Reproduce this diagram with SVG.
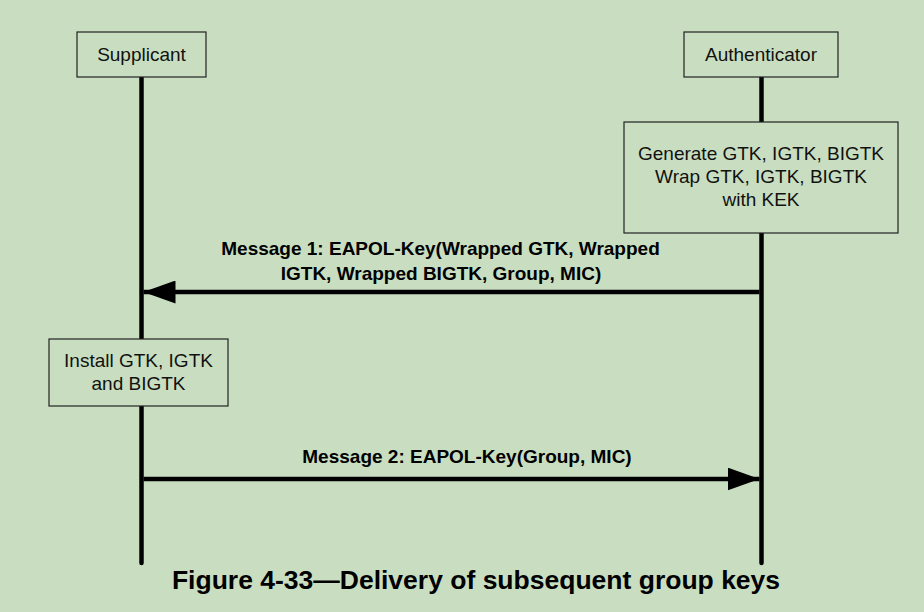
<svg xmlns="http://www.w3.org/2000/svg" width="924" height="612" viewBox="0 0 924 612">
  <defs>
    <style>
      .bg { fill: #c9dec0; }
      .box { fill: #c9dec0; stroke: #222; stroke-width: 1.2; }
      .life { stroke: #000; stroke-width: 4.5; stroke-linecap: round; fill: none; }
      .msg { stroke: #000; stroke-width: 4.5; fill: none; }
      .t { font-family: "Liberation Sans", Arial, sans-serif; font-size: 19px; fill: #111; text-anchor: middle; }
      .b { font-family: "Liberation Sans", Arial, sans-serif; font-size: 19px; font-weight: bold; fill: #000; text-anchor: middle; }
      .cap { font-family: "Liberation Sans", Arial, sans-serif; font-size: 26.5px; font-weight: bold; fill: #000; text-anchor: middle; }
    </style>
    <marker id="ah" viewBox="0 0 32 23" refX="32" refY="11.5" markerWidth="32" markerHeight="23" markerUnits="userSpaceOnUse" orient="auto">
      <path d="M0,0 L32,11.5 L0,23 Z" fill="#000"/>
    </marker>
  </defs>
  <rect class="bg" x="0" y="0" width="924" height="612"/>
  <g id="lifelines">
    <line class="life" x1="141.5" y1="77" x2="141.5" y2="563"/>
    <line class="life" x1="761.5" y1="77" x2="761.5" y2="563"/>
  </g>
  <g id="supplicant">
    <rect class="box" x="77" y="32" width="129" height="45"/>
    <text class="t" x="141.5" y="61">Supplicant</text>
  </g>
  <g id="authenticator">
    <rect class="box" x="684" y="32" width="154" height="45"/>
    <text class="t" x="761" y="61">Authenticator</text>
  </g>
  <g id="generate">
    <rect class="box" x="624" y="122" width="274" height="111"/>
    <text class="t" x="761" y="160">Generate GTK, IGTK, BIGTK</text>
    <text class="t" x="761" y="183">Wrap GTK, IGTK, BIGTK</text>
    <text class="t" x="761" y="206">with KEK</text>
  </g>
  <g id="install">
    <rect class="box" x="49" y="339" width="179" height="67"/>
    <text class="t" x="138.5" y="367">Install GTK, IGTK</text>
    <text class="t" x="138.5" y="390">and BIGTK</text>
  </g>
  <g id="connectors">
    <line class="msg" x1="759.5" y1="292" x2="143.5" y2="292" marker-end="url(#ah)"/>
    <line class="msg" x1="143.5" y1="479" x2="759.5" y2="479" marker-end="url(#ah)"/>
    <text class="b" x="440.5" y="255">Message 1: EAPOL-Key(Wrapped GTK, Wrapped</text>
    <text class="b" x="441" y="280">IGTK, Wrapped BIGTK, Group, MIC)</text>
    <text class="b" x="467" y="463">Message 2: EAPOL-Key(Group, MIC)</text>
  </g>
  <text class="cap" x="476" y="589">Figure 4-33—Delivery of subsequent group keys</text>
</svg>
